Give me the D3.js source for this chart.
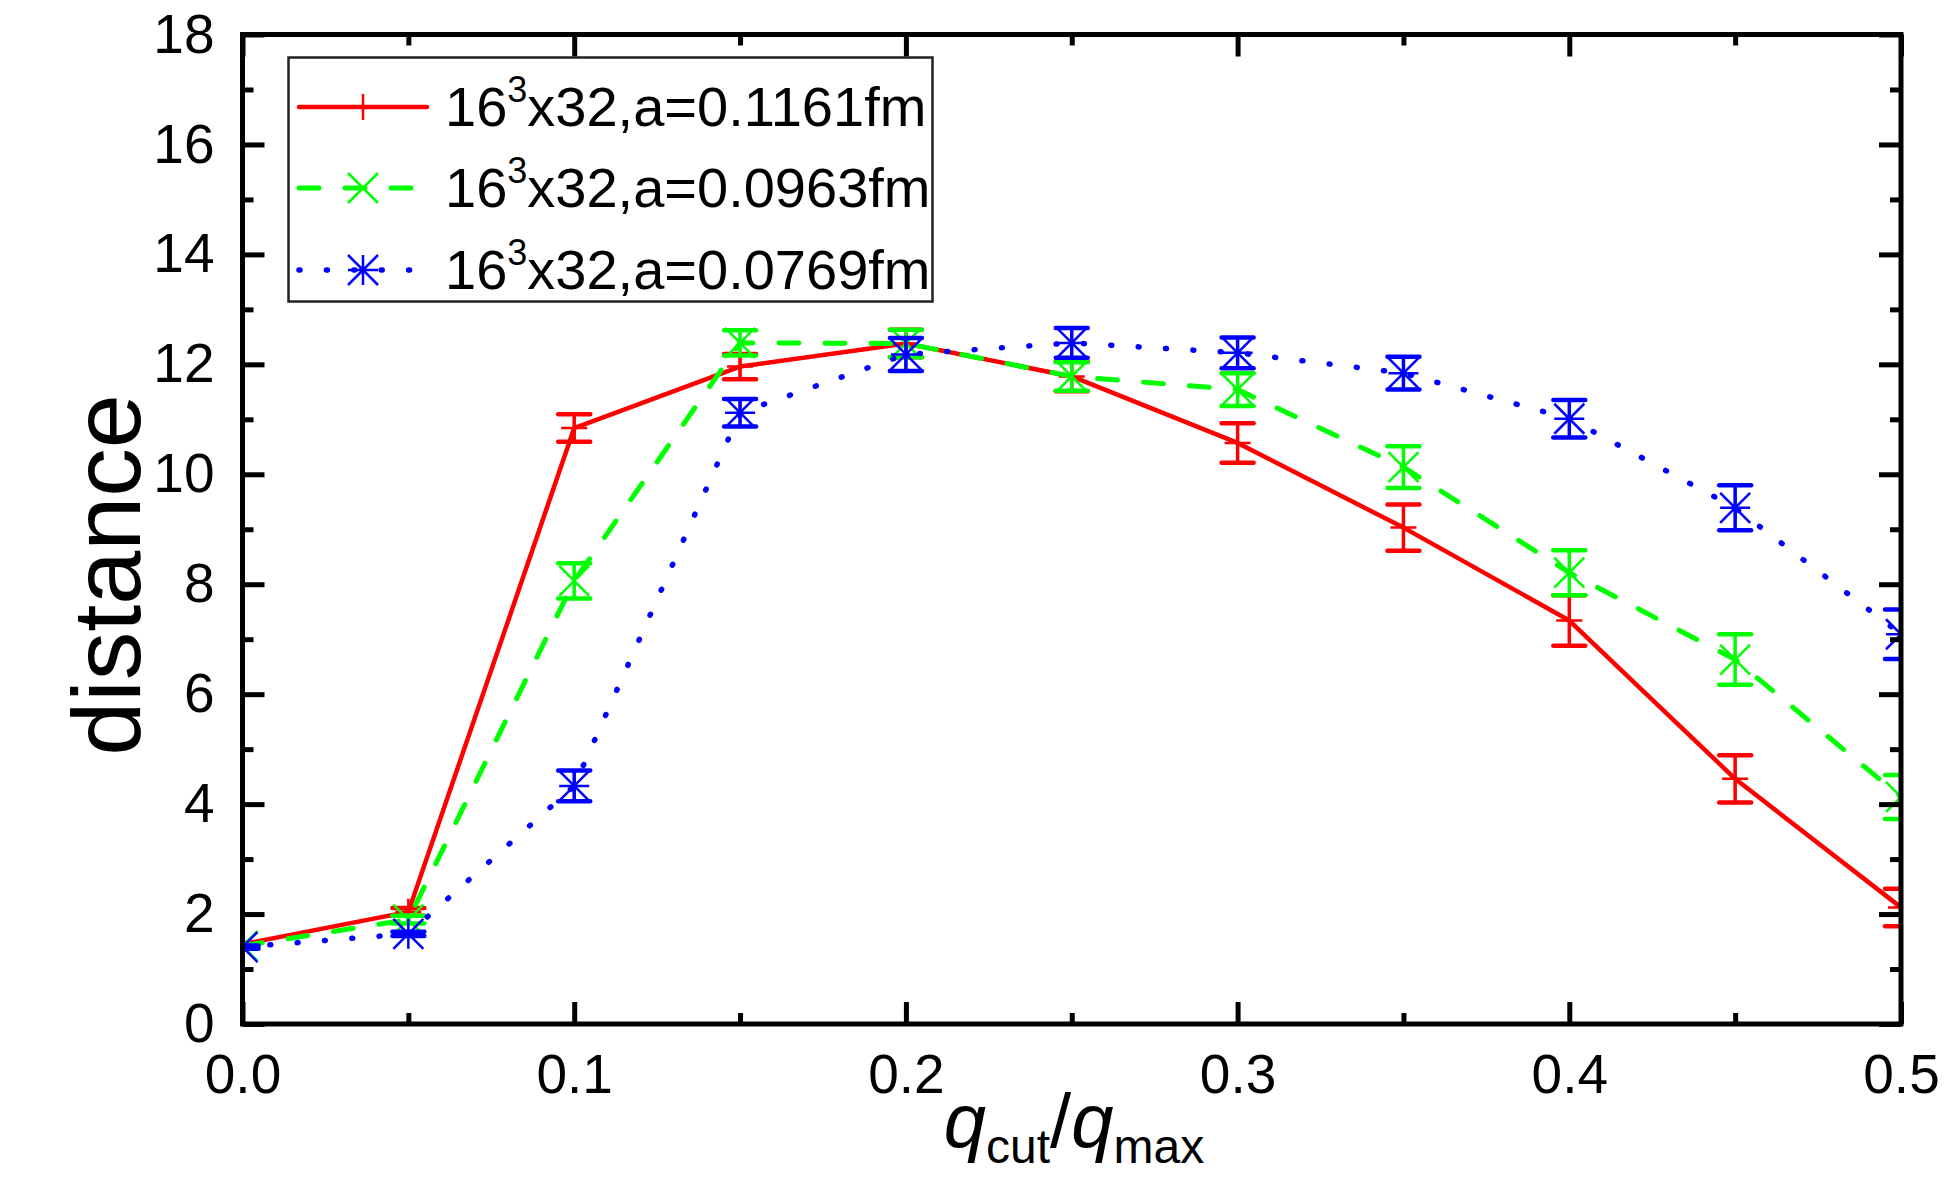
<!DOCTYPE html>
<html><head><meta charset="utf-8">
<script src="https://cdn.jsdelivr.net/npm/d3@7"></script>
<style>
body{margin:0;background:#fff}
svg{display:block}
text{font-family:"Liberation Sans",Arial,Helvetica,sans-serif;fill:#000}
</style>
</head><body>
<svg id="chart" width="1950" height="1196"></svg>
<script>
// ---- data ----
const xValues = [0, 0.05, 0.1, 0.15, 0.2, 0.25, 0.3, 0.35, 0.4, 0.45, 0.5];
const seriesLabels = ["x32,a=0.1161fm", "x32,a=0.0963fm", "x32,a=0.0769fm"];
const redValues   = [1.45, 2.04, 10.84, 11.96, 12.38, 11.78, 10.57, 9.03, 7.34, 4.46, 2.12];
const redErrors   = [0.03, 0.07, 0.25, 0.23, 0.25, 0.27, 0.36, 0.42, 0.46, 0.43, 0.34];
const greenValues = [1.42, 1.90, 8.06, 12.39, 12.38, 11.78, 11.54, 10.13, 8.21, 6.63, 4.13];
const greenErrors = [0.03, 0.07, 0.32, 0.23, 0.25, 0.26, 0.30, 0.38, 0.41, 0.46, 0.40];
const blueValues  = [1.40, 1.64, 4.33, 11.12, 12.18, 12.39, 12.21, 11.84, 11.01, 9.39, 7.09];
const blueErrors  = [0.03, 0.04, 0.28, 0.25, 0.30, 0.27, 0.28, 0.30, 0.34, 0.41, 0.45];
const xMajorTicks = [0, 0.1, 0.2, 0.3, 0.4, 0.5];
const xMinorTicks = [0.05, 0.15, 0.25, 0.35, 0.45];
const xTickLabels = ["0.0", "0.1", "0.2", "0.3", "0.4", "0.5"];
const yMajorTicks = [0, 2, 4, 6, 8, 10, 12, 14, 16, 18];
const yMinorTicks = [1, 3, 5, 7, 9, 11, 13, 15, 17];
const yTickLabels = ["0", "2", "4", "6", "8", "10", "12", "14", "16", "18"];

// ---- layout ----
const m = {left: 242.5, right: 1901, top: 34.5, bottom: 1024};
const svg = d3.select("#chart");
const x = d3.scaleLinear().domain([0, 0.5]).range([m.left, m.right]);
const y = d3.scaleLinear().domain([0, 18]).range([m.bottom, m.top]);

const series = [
  {color: "#ff0000", values: redValues, errors: redErrors, marker: "plus", dash: null, width: 4.5, cap: "round"},
  {color: "#00ff00", values: greenValues, errors: greenErrors, marker: "cross", dash: "20 26", width: 5, cap: "round"},
  {color: "#0000ff", values: blueValues, errors: blueErrors, marker: "star", dash: "1 26.4", width: 5.5, cap: "round"}
];

svg.append("defs").append("clipPath").attr("id", "plotclip")
  .append("rect").attr("x", m.left).attr("y", m.top)
  .attr("width", m.right - m.left).attr("height", m.bottom - m.top);

function markerPath(type, cx, cy) {
  const h = type === "plus" ? 13 : 15;
  const p = d3.path();
  if (type === "plus" || type === "star") {
    p.moveTo(cx - h, cy); p.lineTo(cx + h, cy);
    p.moveTo(cx, cy - h); p.lineTo(cx, cy + h);
  }
  if (type === "cross" || type === "star") {
    p.moveTo(cx - h, cy - h); p.lineTo(cx + h, cy + h);
    p.moveTo(cx - h, cy + h); p.lineTo(cx + h, cy - h);
  }
  return p.toString();
}

const plot = svg.append("g").attr("clip-path", "url(#plotclip)");
const line = d3.line().x(d => x(d.x)).y(d => y(d.v));

series.forEach(s => {
  const pts = xValues.map((xv, i) => ({x: xv, v: s.values[i], e: s.errors[i]}));
  const g = plot.append("g");
  g.append("path").datum(pts).attr("d", line)
    .attr("fill", "none").attr("stroke", s.color).attr("stroke-width", s.width)
    .attr("stroke-linecap", s.cap).attr("stroke-linejoin", "round")
    .attr("stroke-dasharray", s.dash);
  // error bars
  const eb = g.selectAll(".eb").data(pts).enter().append("g");
  eb.append("line").attr("x1", d => x(d.x)).attr("x2", d => x(d.x))
    .attr("y1", d => y(d.v - d.e)).attr("y2", d => y(d.v + d.e))
    .attr("stroke", s.color).attr("stroke-width", 3.5);
  [-1, 1].forEach(sg => {
    eb.append("line").attr("x1", d => x(d.x) - 16).attr("x2", d => x(d.x) + 16)
      .attr("y1", d => y(d.v + sg * d.e)).attr("y2", d => y(d.v + sg * d.e))
      .attr("stroke", s.color).attr("stroke-width", 4.5).attr("stroke-linecap", "round");
  });
  eb.append("path").attr("d", d => markerPath(s.marker, x(d.x), y(d.v)))
    .attr("stroke", s.color).attr("stroke-width", 2.5).attr("fill", "none");
});

// ---- axes (inward ticks on all four sides) ----
function styleAxis(g) {
  g.select(".domain").remove();
  g.selectAll(".tick line").attr("stroke", "#000").attr("stroke-width", 5);
  g.selectAll(".tick text").attr("font-size", 55).attr("fill", "#000")
    .attr("font-family", '"Liberation Sans",Arial,sans-serif');
}
svg.append("g").attr("transform", `translate(0,${m.bottom})`)
  .call(d3.axisBottom(x).tickValues(xMajorTicks).tickFormat((d, i) => xTickLabels[i]).tickSizeInner(-22).tickSizeOuter(0).tickPadding(30))
  .call(styleAxis);
svg.append("g").attr("transform", `translate(0,${m.bottom})`)
  .call(d3.axisBottom(x).tickValues(xMinorTicks).tickFormat("").tickSizeInner(-11).tickSizeOuter(0))
  .call(styleAxis);
svg.append("g").attr("transform", `translate(0,${m.top})`)
  .call(d3.axisTop(x).tickValues(xMajorTicks).tickFormat("").tickSizeInner(-22).tickSizeOuter(0))
  .call(styleAxis);
svg.append("g").attr("transform", `translate(0,${m.top})`)
  .call(d3.axisTop(x).tickValues(xMinorTicks).tickFormat("").tickSizeInner(-11).tickSizeOuter(0))
  .call(styleAxis);
svg.append("g").attr("transform", `translate(${m.left},0)`)
  .call(d3.axisLeft(y).tickValues(yMajorTicks).tickFormat((d, i) => yTickLabels[i]).tickSizeInner(-22).tickSizeOuter(0).tickPadding(28))
  .call(styleAxis);
svg.append("g").attr("transform", `translate(${m.left},0)`)
  .call(d3.axisLeft(y).tickValues(yMinorTicks).tickFormat("").tickSizeInner(-11).tickSizeOuter(0))
  .call(styleAxis);
svg.append("g").attr("transform", `translate(${m.right},0)`)
  .call(d3.axisRight(y).tickValues(yMajorTicks).tickFormat("").tickSizeInner(-22).tickSizeOuter(0))
  .call(styleAxis);
svg.append("g").attr("transform", `translate(${m.right},0)`)
  .call(d3.axisRight(y).tickValues(yMinorTicks).tickFormat("").tickSizeInner(-11).tickSizeOuter(0))
  .call(styleAxis);

svg.append("rect").attr("x", m.left).attr("y", m.top)
  .attr("width", m.right - m.left).attr("height", m.bottom - m.top)
  .attr("fill", "none").attr("stroke", "#000").attr("stroke-width", 5);

// ---- axis titles ----
svg.append("text").attr("transform", "translate(140,575) rotate(-90)")
  .attr("text-anchor", "middle").attr("font-size", 97).text("distance");

const xl = svg.append("text").attr("x", 1074).attr("y", 1147).attr("text-anchor", "middle");
xl.append("tspan").attr("font-size", 76).attr("font-style", "italic").text("q");
xl.append("tspan").attr("font-size", 48).attr("dy", 16).text("cut");
xl.append("tspan").attr("font-size", 76).attr("dy", -16).text("/");
xl.append("tspan").attr("font-size", 76).attr("font-style", "italic").text("q");
xl.append("tspan").attr("font-size", 48).attr("dy", 16).text("max");

// ---- legend ----
const lg = svg.append("g");
lg.append("rect").attr("x", 288.5).attr("y", 57.5).attr("width", 644).attr("height", 244)
  .attr("fill", "#fff").attr("stroke", "#222").attr("stroke-width", 2.5);
const rowY = [107, 188, 270];
series.forEach((s, i) => {
  const ry = rowY[i];
  lg.append("line").attr("x1", 299).attr("x2", 427).attr("y1", ry).attr("y2", ry)
    .attr("stroke", s.color).attr("stroke-width", s.width)
    .attr("stroke-linecap", s.cap).attr("stroke-dasharray", s.dash);
  lg.append("path").attr("d", markerPath(s.marker, 363, ry))
    .attr("stroke", s.color).attr("stroke-width", 2.5).attr("fill", "none");
  const t = lg.append("text").attr("x", 445).attr("y", ry + 19).attr("font-size", 56);
  t.append("tspan").text("16");
  t.append("tspan").attr("font-size", 36).attr("dy", -24).text("3");
  t.append("tspan").attr("dy", 24).text(seriesLabels[i]);
});
</script>
</body></html>
